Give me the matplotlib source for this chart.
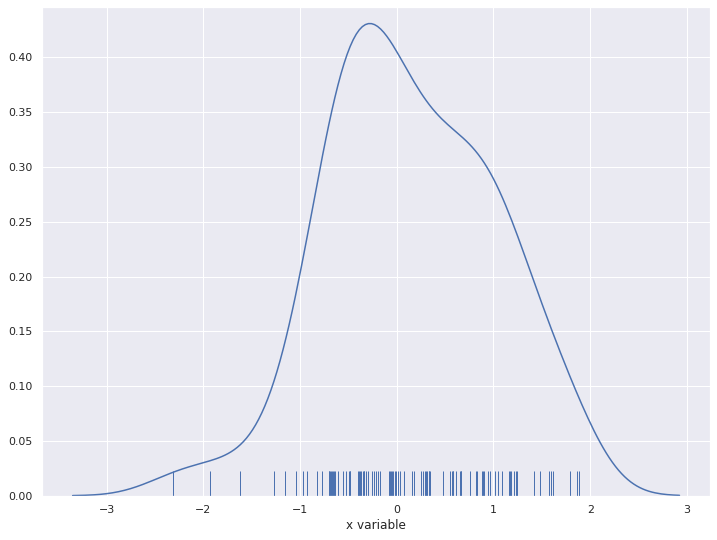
import matplotlib
matplotlib.use("Agg")
import matplotlib.pyplot as plt
import seaborn as sns
import numpy as np

sns.set_theme()

# observed sample values (read from the rug; dense bands hold several ticks)
x_values = [
    -2.316, -1.936, -1.622, -1.274, -1.151, -1.038, -0.966, -0.925, -0.822, -0.771,
    -0.704, -0.696, -0.688, -0.680, -0.673, -0.657, -0.650, -0.642, -0.608, -0.557,
    -0.526, -0.495, -0.488, -0.481, -0.403, -0.394, -0.385, -0.365, -0.349,
    -0.341, -0.334, -0.317, -0.300, -0.259, -0.238, -0.218, -0.197, -0.177, -0.077,
    -0.070, -0.064, -0.049, -0.036, -0.023, -0.008, 0.012, 0.033,
    0.070, 0.162, 0.183, 0.255, 0.275, 0.288, 0.300, 0.316, 0.329, 0.335,
    0.341, 0.481, 0.553, 0.573, 0.580, 0.584, 0.614, 0.656, 0.661, 0.666,
    0.758, 0.820, 0.830, 0.882, 0.892, 0.902, 0.943, 0.964, 1.015, 1.046,
    1.087, 1.156, 1.169, 1.184, 1.208, 1.228, 1.246, 1.416, 1.478, 1.570,
    1.591, 1.611, 1.796, 1.867, 1.888,
]
x_label = "x variable"

x = np.array(x_values)
bandwidth = 0.345
fig, ax = plt.subplots(figsize=(717 / 72, 540 / 72), dpi=72)
color = "#4c72b0"
sns.kdeplot(x=x, ax=ax, cut=3, bw_method=bandwidth / x.std(ddof=1),
            color=color, linewidth=1.5)
sns.rugplot(x=x, ax=ax, height=0.05, color=color, linewidth=1)
ax.set_xlabel(x_label)
ax.set_ylabel("")
ax.set_yticks(np.arange(0, 0.45, 0.05))
ax.set_ylim(0, 0.446)
fig.subplots_adjust(left=0.059, right=0.99, top=0.987, bottom=0.082)
fig.savefig("out.png")
